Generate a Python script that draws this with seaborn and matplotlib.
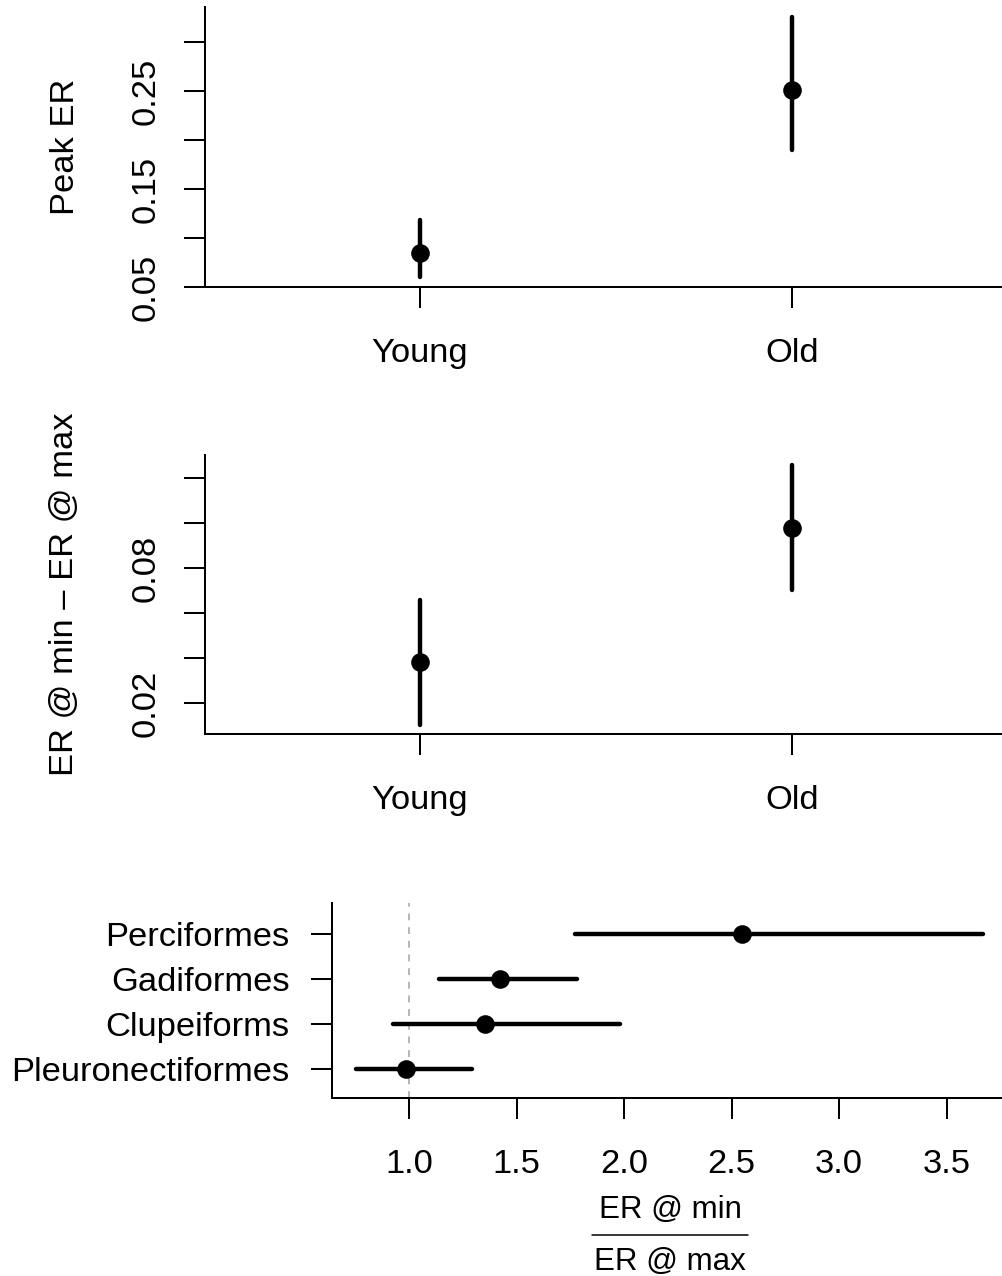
import numpy as np
import pandas as pd
import matplotlib
matplotlib.use("Agg")
import matplotlib.pyplot as plt
from matplotlib.lines import Line2D
import seaborn as sns

# ---- data -------------------------------------------------------------
age_groups = ["Young", "Old"]

# Peak exploitation rate: estimate with lower / upper interval
peak_er = [0.085, 0.251]
peak_er_lo = [0.060, 0.190]
peak_er_hi = [0.118, 0.325]

# ER at minimum minus ER at maximum
er_diff = [0.0384, 0.0979]
er_diff_lo = [0.0104, 0.0704]
er_diff_hi = [0.0659, 0.1259]

# Ratio ER@min / ER@max by taxonomic order
orders = ["Perciformes", "Gadiformes", "Clupeiforms", "Pleuronectiformes"]
ratio = [2.55, 1.425, 1.355, 0.985]
ratio_lo = [1.772, 1.140, 0.926, 0.753]
ratio_hi = [3.670, 1.780, 1.980, 1.293]

peak_ticks = [0.05, 0.10, 0.15, 0.20, 0.25, 0.30]
peak_tick_labels = ["0.05", "", "0.15", "", "0.25", ""]
diff_ticks = [0.02, 0.04, 0.06, 0.08, 0.10, 0.12]
diff_tick_labels = ["0.02", "", "", "0.08", "", ""]
ratio_ticks = [1.0, 1.5, 2.0, 2.5, 3.0, 3.5]

# ---- style ------------------------------------------------------------
sns.set_style("ticks")
plt.rcParams["font.family"] = ["Liberation Sans", "DejaVu Sans"]
plt.rcParams["axes.labelcolor"] = "black"
plt.rcParams["text.color"] = "black"

W, H = 1002, 1276
fig = plt.figure(figsize=(W / 100, H / 100), dpi=100)
fig.patch.set_facecolor("white")

FS = 24.8
AX_LW = 1.45
TICK_LEN = 15
BAR_LW = 3.2
MARKER_S = 180


def add_axes_px(left, top, right, bottom):
    return fig.add_axes([left / W, 1 - bottom / H, (right - left) / W, (bottom - top) / H])


def style_axes(ax):
    sns.despine(ax=ax)
    ax.set_facecolor("white")
    for side in ("left", "bottom"):
        ax.spines[side].set_linewidth(AX_LW)
        ax.spines[side].set_color("black")
    ax.tick_params(axis="both", direction="out", length=TICK_LEN, width=AX_LW,
                   color="black", labelsize=FS, labelcolor="black")
    ax.tick_params(axis="x", pad=21.5)
    ax.grid(False)


def age_panel(ax, est, lo, hi, ticks, tick_labels, ylim, ylabel):
    df = pd.DataFrame({"group": age_groups, "pos": [1, 2], "est": est,
                       "lo": lo, "hi": hi})
    ax.vlines(df["pos"], df["lo"], df["hi"], color="black", lw=BAR_LW,
              capstyle="round", zorder=2)
    sns.scatterplot(data=df, x="pos", y="est", ax=ax, color="black",
                    edgecolor="black", s=MARKER_S, linewidth=0, zorder=3,
                    legend=False)
    ax.set_xlim(0.422, 2.5645)
    ax.set_ylim(*ylim)
    ax.set_xticks(df["pos"], df["group"])
    ax.set_yticks(ticks, tick_labels)
    style_axes(ax)
    ax.tick_params(axis="y", labelrotation=90, pad=16.5)
    for lab in ax.get_yticklabels():
        lab.set_verticalalignment("center")
    ax.set_xlabel("")
    ax.set_ylabel(ylabel, fontsize=FS, va="center", color="black")
    ax.yaxis.set_label_coords((65 - 205) / 797, 0.5)


# ---- panel 1: peak ER ---------------------------------------------------
ax1 = add_axes_px(205, 7, 1002, 287)
age_panel(ax1, peak_er, peak_er_lo, peak_er_hi, peak_ticks, peak_tick_labels,
          (0.05, 0.3357), "Peak ER")

# ---- panel 2: difference ------------------------------------------------
ax2 = add_axes_px(205, 455, 1002, 734)
age_panel(ax2, er_diff, er_diff_lo, er_diff_hi, diff_ticks, diff_tick_labels,
          (0.00636, 0.1304), "ER @ min \u2013 ER @ max")

# ---- panel 3: ratio by order -------------------------------------------
ax3 = add_axes_px(332, 903, 1002, 1098)
df3 = pd.DataFrame({"order": orders, "pos": np.arange(len(orders), 0, -1),
                    "ratio": ratio, "lo": ratio_lo, "hi": ratio_hi})
ax3.axvline(1.0, color="#a9a9a9", lw=1.2, ls=(0, (4.1, 4.1)), zorder=1)
ax3.hlines(df3["pos"], df3["lo"], df3["hi"], color="black", lw=BAR_LW,
           capstyle="round", zorder=2)
sns.scatterplot(data=df3, x="ratio", y="pos", ax=ax3, color="black",
                edgecolor="black", s=MARKER_S, linewidth=0, zorder=3,
                legend=False)
ax3.set_xlim(0.6419, 3.758)
ax3.set_ylim(0.356, 4.69)
ax3.set_xticks(ratio_ticks, [f"{t:.1f}" for t in ratio_ticks])
ax3.set_yticks(df3["pos"], df3["order"])
style_axes(ax3)
ax3.tick_params(axis="y", pad=15.5)
ax3.set_xlabel("")
ax3.set_ylabel("")

# fraction-style axis title under panel 3
fig.text(670 / W, 1 - 1218.3 / H, "ER @ min", ha="center", va="baseline",
         fontsize=22.5, color="black")
fig.text(670 / W, 1 - 1270 / H, "ER @ max", ha="center", va="baseline",
         fontsize=22.5, color="black")
fig.add_artist(Line2D([592 / W, 748 / W], [1 - 1235 / H, 1 - 1235 / H],
                      transform=fig.transFigure, color="black", lw=1.1))

fig.savefig("out.png", dpi=100, facecolor="white")
